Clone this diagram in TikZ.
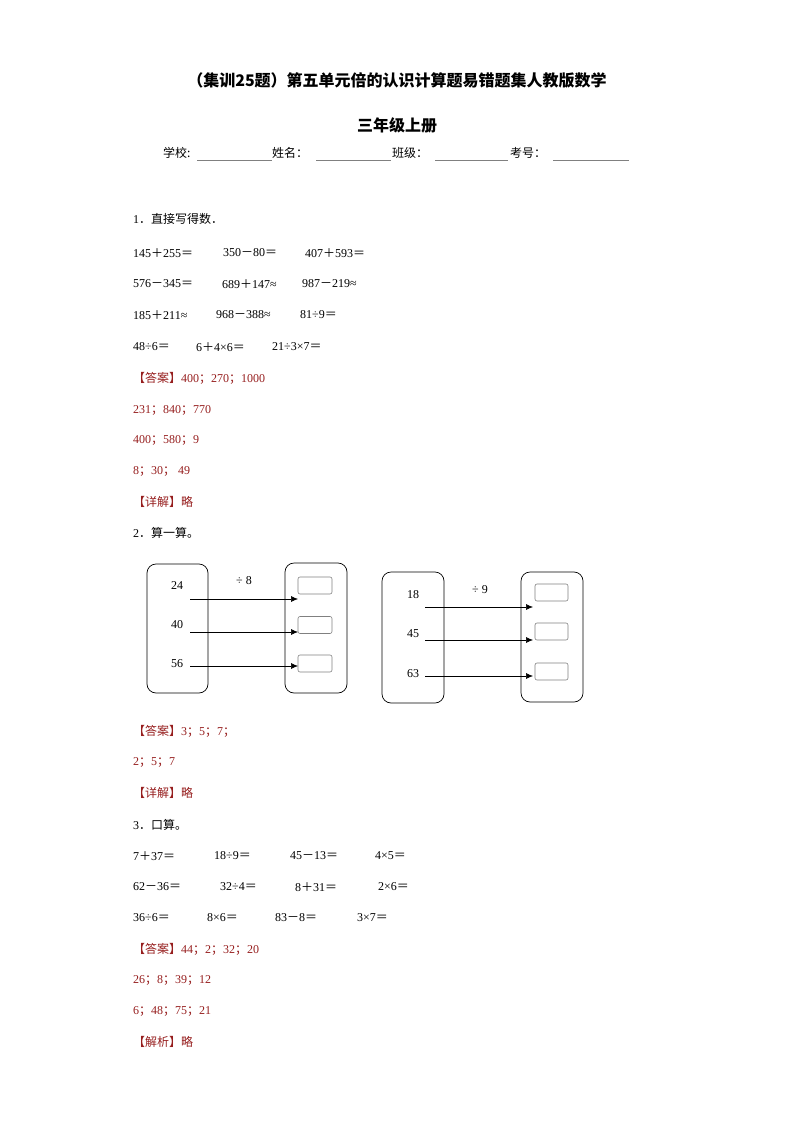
\documentclass[tikz,border=0pt]{standalone}
\usepackage{fontspec}
\usetikzlibrary{arrows.meta}
\setmainfont{Liberation Serif}
\newfontfamily\cjk{Noto Sans CJK SC}
\definecolor{ans}{RGB}{150,30,30}
\begin{document}
\begin{tikzpicture}[x=1pt,y=-1pt,
  t/.style={anchor=west,inner sep=0pt,font=\fontsize{12}{12}\selectfont},
  a/.style={t,text=ans},
  bigbox/.style={draw,rounded corners=9pt,line width=0.7pt},
  smallbox/.style={draw=gray,rounded corners=2pt,line width=0.6pt},
  arr/.style={-{Latex[length=7pt,width=6pt]},line width=0.6pt}]
\useasboundingbox (0,0) rectangle (794,1123);
\node[font=\fontsize{16}{16}\selectfont\bfseries\cjk] (title1) at (397,80) {（集训25题）第五单元倍的认识计算题易错题集人教版数学};
\node[font=\fontsize{16}{16}\selectfont\bfseries\cjk] (title2) at (397,125) {三年级上册};
\node[t] (f1) at (163,153) {\cjk 学校:};
\node[t] (f2) at (272,153) {\cjk 姓名：};
\node[t] (f3) at (392,153) {\cjk 班级：};
\node[t] (f4) at (510,153) {\cjk 考号：};
\draw[gray,line width=0.6pt] (197,160)--(272,160) (316,160)--(391,160) (435,160)--(508,160) (553,160)--(629,160);
% Q1
\node[t] (q1) at (133,219) {1{\cjk．直接写得数．}};
\node[t] (r11) at (133,253) {145{\cjk ＋}255{\cjk ＝}};
\node[t] (r12) at (223,253) {350{\cjk －}80{\cjk ＝}};
\node[t] (r13) at (305,253) {407{\cjk ＋}593{\cjk ＝}};
\node[t] (r21) at (133,284) {576{\cjk －}345{\cjk ＝}};
\node[t] (r22) at (222,284) {689{\cjk ＋}147≈};
\node[t] (r23) at (302,284) {987{\cjk －}219≈};
\node[t] (r31) at (133,315) {185{\cjk ＋}211≈};
\node[t] (r32) at (216,315) {968{\cjk －}388≈};
\node[t] (r33) at (300,315) {81÷9{\cjk ＝}};
\node[t] (r41) at (133,347) {48÷6{\cjk ＝}};
\node[t] (r42) at (196,347) {6{\cjk ＋}4×6{\cjk ＝}};
\node[t] (r43) at (272,347) {21÷3×7{\cjk ＝}};
\node[a] (a11) at (133,378) {{\cjk 【答案】}400{\cjk ；}270{\cjk ；}1000};
\node[a] (a12) at (133,410) {231{\cjk ；}840{\cjk ；}770};
\node[a] (a13) at (133,440) {400{\cjk ；}580{\cjk ；}9};
\node[a] (a14) at (133,471) {8{\cjk ；}30{\cjk ；} 49};
\node[a] (x1) at (133,502) {{\cjk 【详解】略}};
% Q2
\node[t] (q2) at (133,533) {2{\cjk ．算一算。}};
\draw[bigbox] (147,564) rectangle (208,693);
\draw[bigbox] (285,563) rectangle (347,693);
\node[smallbox,minimum width=34pt,minimum height=17pt] (b1) at (315,585.5) {};
\node[smallbox,minimum width=34pt,minimum height=17pt] (b2) at (315,625) {};
\node[smallbox,minimum width=34pt,minimum height=17pt] (b3) at (315,663.5) {};
\node[t,anchor=center] (n1) at (177,586) {24};
\node[t,anchor=center] (n2) at (177,625) {40};
\node[t,anchor=center] (n3) at (177,664) {56};
\node[t,anchor=center] (d1) at (244,581) {÷ 8};
\coordinate (s1) at (190,599); \coordinate (e1) at (298,599);
\coordinate (s2) at (190,632); \coordinate (e2) at (298,632);
\coordinate (s3) at (190,666); \coordinate (e3) at (298,666);
\draw[arr] (s1)--(e1); \draw[arr] (s2)--(e2); \draw[arr] (s3)--(e3);
\draw[bigbox] (382,572) rectangle (444,703);
\draw[bigbox] (521,572) rectangle (583,702);
\node[smallbox,minimum width=33pt,minimum height=17pt] (c1) at (551.5,592.5) {};
\node[smallbox,minimum width=33pt,minimum height=17pt] (c2) at (551.5,631.5) {};
\node[smallbox,minimum width=33pt,minimum height=17pt] (c3) at (551.5,671.5) {};
\node[t,anchor=center] (m1) at (413,595) {18};
\node[t,anchor=center] (m2) at (413,634) {45};
\node[t,anchor=center] (m3) at (413,674) {63};
\node[t,anchor=center] (d2) at (480,590) {÷ 9};
\coordinate (u1) at (425,607); \coordinate (v1) at (533,607);
\coordinate (u2) at (425,640); \coordinate (v2) at (533,640);
\coordinate (u3) at (425,676); \coordinate (v3) at (533,676);
\draw[arr] (u1)--(v1); \draw[arr] (u2)--(v2); \draw[arr] (u3)--(v3);
\node[a] (a21) at (133,731) {{\cjk 【答案】}3{\cjk ；}5{\cjk ；}7{\cjk ；}};
\node[a] (a22) at (133,762) {2{\cjk ；}5{\cjk ；}7};
\node[a] (x2) at (133,793) {{\cjk 【详解】略}};
% Q3
\node[t] (q3) at (133,825) {3{\cjk ．口算。}};
\node[t] (p11) at (133,856) {7{\cjk ＋}37{\cjk ＝}};
\node[t] (p12) at (214,856) {18÷9{\cjk ＝}};
\node[t] (p13) at (290,856) {45{\cjk －}13{\cjk ＝}};
\node[t] (p14) at (375,856) {4×5{\cjk ＝}};
\node[t] (p21) at (133,887) {62{\cjk －}36{\cjk ＝}};
\node[t] (p22) at (220,887) {32÷4{\cjk ＝}};
\node[t] (p23) at (295,887) {8{\cjk ＋}31{\cjk ＝}};
\node[t] (p24) at (378,887) {2×6{\cjk ＝}};
\node[t] (p31) at (133,918) {36÷6{\cjk ＝}};
\node[t] (p32) at (207,918) {8×6{\cjk ＝}};
\node[t] (p33) at (275,918) {83{\cjk －}8{\cjk ＝}};
\node[t] (p34) at (357,918) {3×7{\cjk ＝}};
\node[a] (a31) at (133,949) {{\cjk 【答案】}44{\cjk ；}2{\cjk ；}32{\cjk ；}20};
\node[a] (a32) at (133,980) {26{\cjk ；}8{\cjk ；}39{\cjk ；}12};
\node[a] (a33) at (133,1011) {6{\cjk ；}48{\cjk ；}75{\cjk ；}21};
\node[a] (x3) at (133,1042) {{\cjk 【解析】略}};
\end{tikzpicture}
\end{document}
